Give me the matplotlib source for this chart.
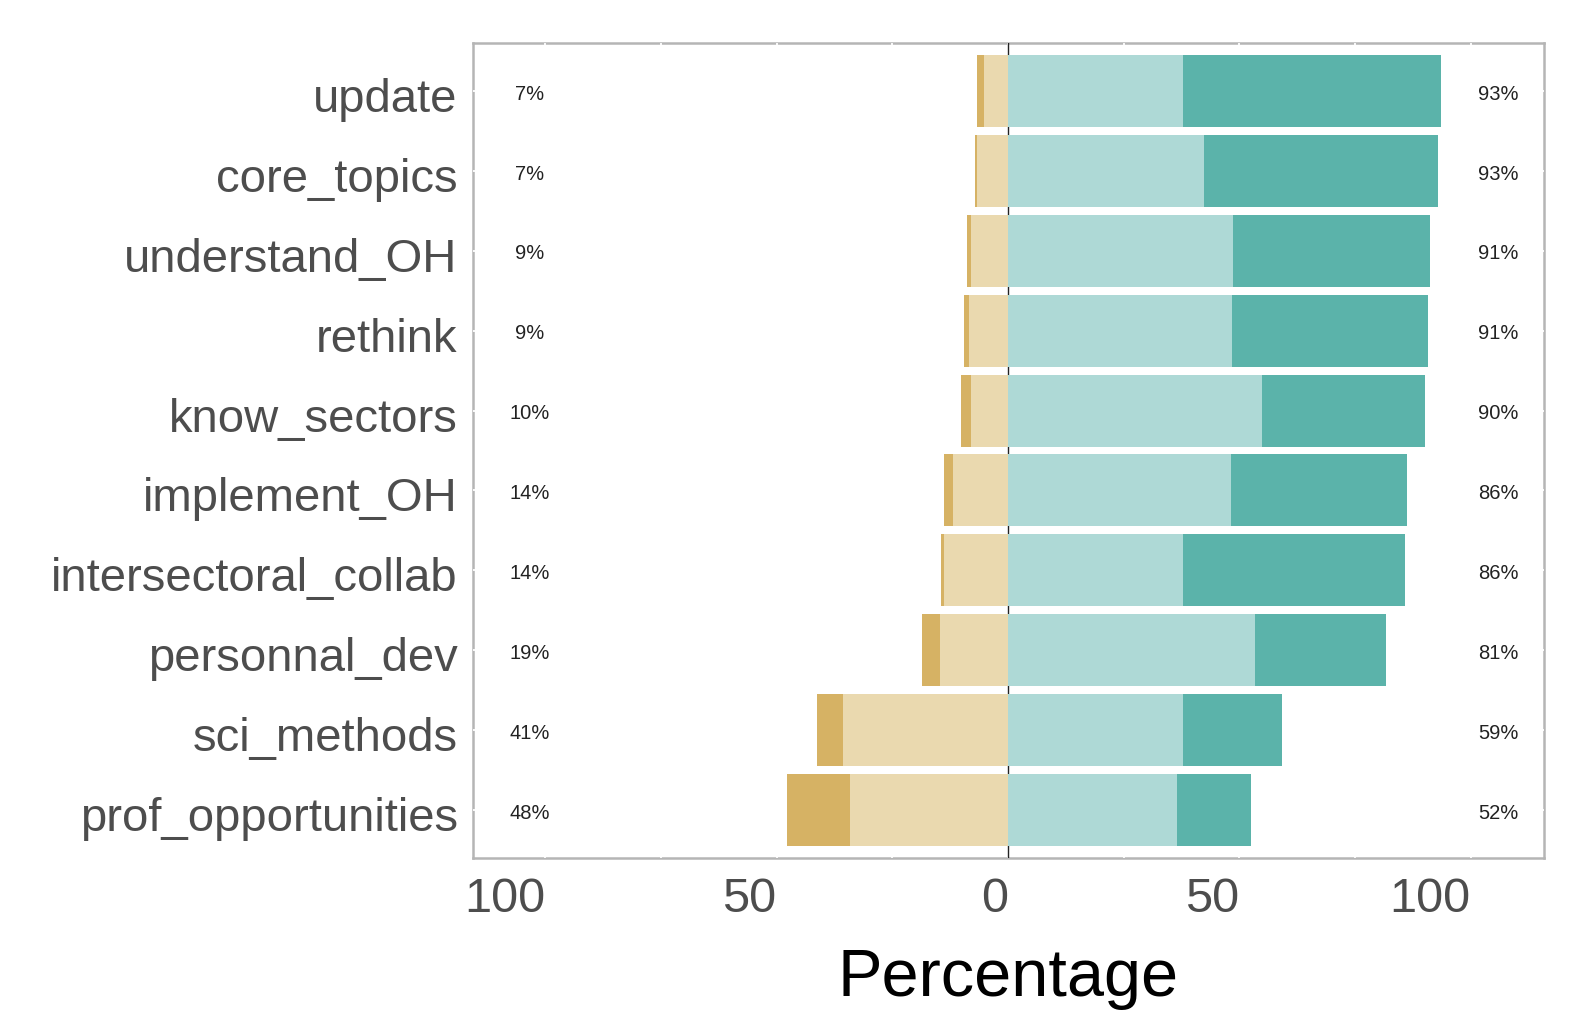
import numpy as np
import matplotlib
matplotlib.use("Agg")
import matplotlib.pyplot as plt
from matplotlib import font_manager
from matplotlib.transforms import ScaledTranslation

# items, top to bottom
items = ["update", "core_topics", "understand_OH", "rethink", "know_sectors",
         "implement_OH", "intersectoral_collab", "personnal_dev", "sci_methods",
         "prof_opportunities"]

# negative side (percent), outer = darker tan, inner = light tan
neg_outer = [1.45, 0.6, 0.86, 1.15, 2.0, 2.1, 0.6, 3.8, 5.7, 13.7]
neg_inner = [5.2, 6.6, 8.1, 8.4, 8.1, 11.8, 13.9, 14.7, 35.6, 34.1]
# positive side (percent), inner = light teal, outer = dark teal
pos_inner = [37.9, 42.3, 48.7, 48.4, 54.8, 48.1, 37.9, 53.3, 37.9, 36.5]
pos_outer = [55.6, 50.7, 42.5, 42.3, 35.3, 38.2, 47.8, 28.4, 21.2, 15.9]

left_labels = ["7%", "7%", "9%", "9%", "10%", "14%", "14%", "19%", "41%", "48%"]
right_labels = ["93%", "93%", "91%", "91%", "90%", "86%", "86%", "81%", "59%", "52%"]

xticks = [-100, -50, 0, 50, 100]
xticklabels = ["100", "50", "0", "50", "100"]

col_neg_outer = "#D6B264"
col_neg_inner = "#EAD9AF"
col_pos_inner = "#AED9D6"
col_pos_outer = "#5BB3AA"

names = {f.name for f in font_manager.fontManager.ttflist}
tick_family = "Liberation Sans Narrow" if "Liberation Sans Narrow" in names else "Liberation Sans"
tick_size = 38 if tick_family == "Liberation Sans Narrow" else 35

plt.rcParams["font.family"] = ["Liberation Sans", "DejaVu Sans"]

W, H = 1585, 1010
fig = plt.figure(figsize=(W / 100, H / 100), dpi=100)
ax = fig.add_axes([473 / W, 1 - 858 / H, (1544 - 473) / W, (858 - 43) / H])

n = len(items)
y = np.arange(n)[::-1] + 1
h = 0.9

ax.barh(y, -np.array(neg_inner), left=0, height=h, color=col_neg_inner, zorder=3)
ax.barh(y, -np.array(neg_outer), left=-np.array(neg_inner), height=h, color=col_neg_outer, zorder=3)
ax.barh(y, pos_inner, left=0, height=h, color=col_pos_inner, zorder=3)
ax.barh(y, pos_outer, left=np.array(pos_inner), height=h, color=col_pos_outer, zorder=3)

ax.axvline(0, color="#222222", lw=1.0, zorder=2)

for yi, lt, rt in zip(y, left_labels, right_labels):
    ax.text(-103.3, yi - 0.04, lt, ha="center", va="center", fontsize=14.5, color="#222222", zorder=4)
    ax.text(106, yi - 0.04, rt, ha="center", va="center", fontsize=14.5, color="#222222", zorder=4)

ax.set_xlim(-115.6, 115.8)
ax.set_ylim(0.4, n + 0.6)

ax.set_yticks(y)
ax.set_yticklabels(items, fontsize=34, color="#4D4D4D")
ax.set_xticks(xticks)
ax.set_xticklabels(xticklabels, fontsize=tick_size, color="#4D4D4D", family=tick_family, ha="right")
ax.set_xticks([-75, -25, 25, 75], minor=True)
ax.tick_params(axis="both", which="both", length=0)
ax.tick_params(axis="y", pad=11)
ax.tick_params(axis="x", pad=14)

# nudge the item names a little below the bar centres, as in the original
shift = ScaledTranslation(0, -0.04, fig.dpi_scale_trans)
for lab in ax.get_yticklabels():
    lab.set_transform(lab.get_transform() + shift)

# white grid lines sit under the bars but over the panel border
ax.set_axisbelow(True)
ax.grid(True, which="both", color="white", lw=1.3)
for s in ax.spines.values():
    s.set_color("#B5B5B5")
    s.set_linewidth(1.8)
    s.set_zorder(0.4)

fig.text(1008 / W, 1 - 996 / H, "Percentage", ha="center", va="baseline", fontsize=48, color="black")

fig.savefig("out.png", dpi=100)
